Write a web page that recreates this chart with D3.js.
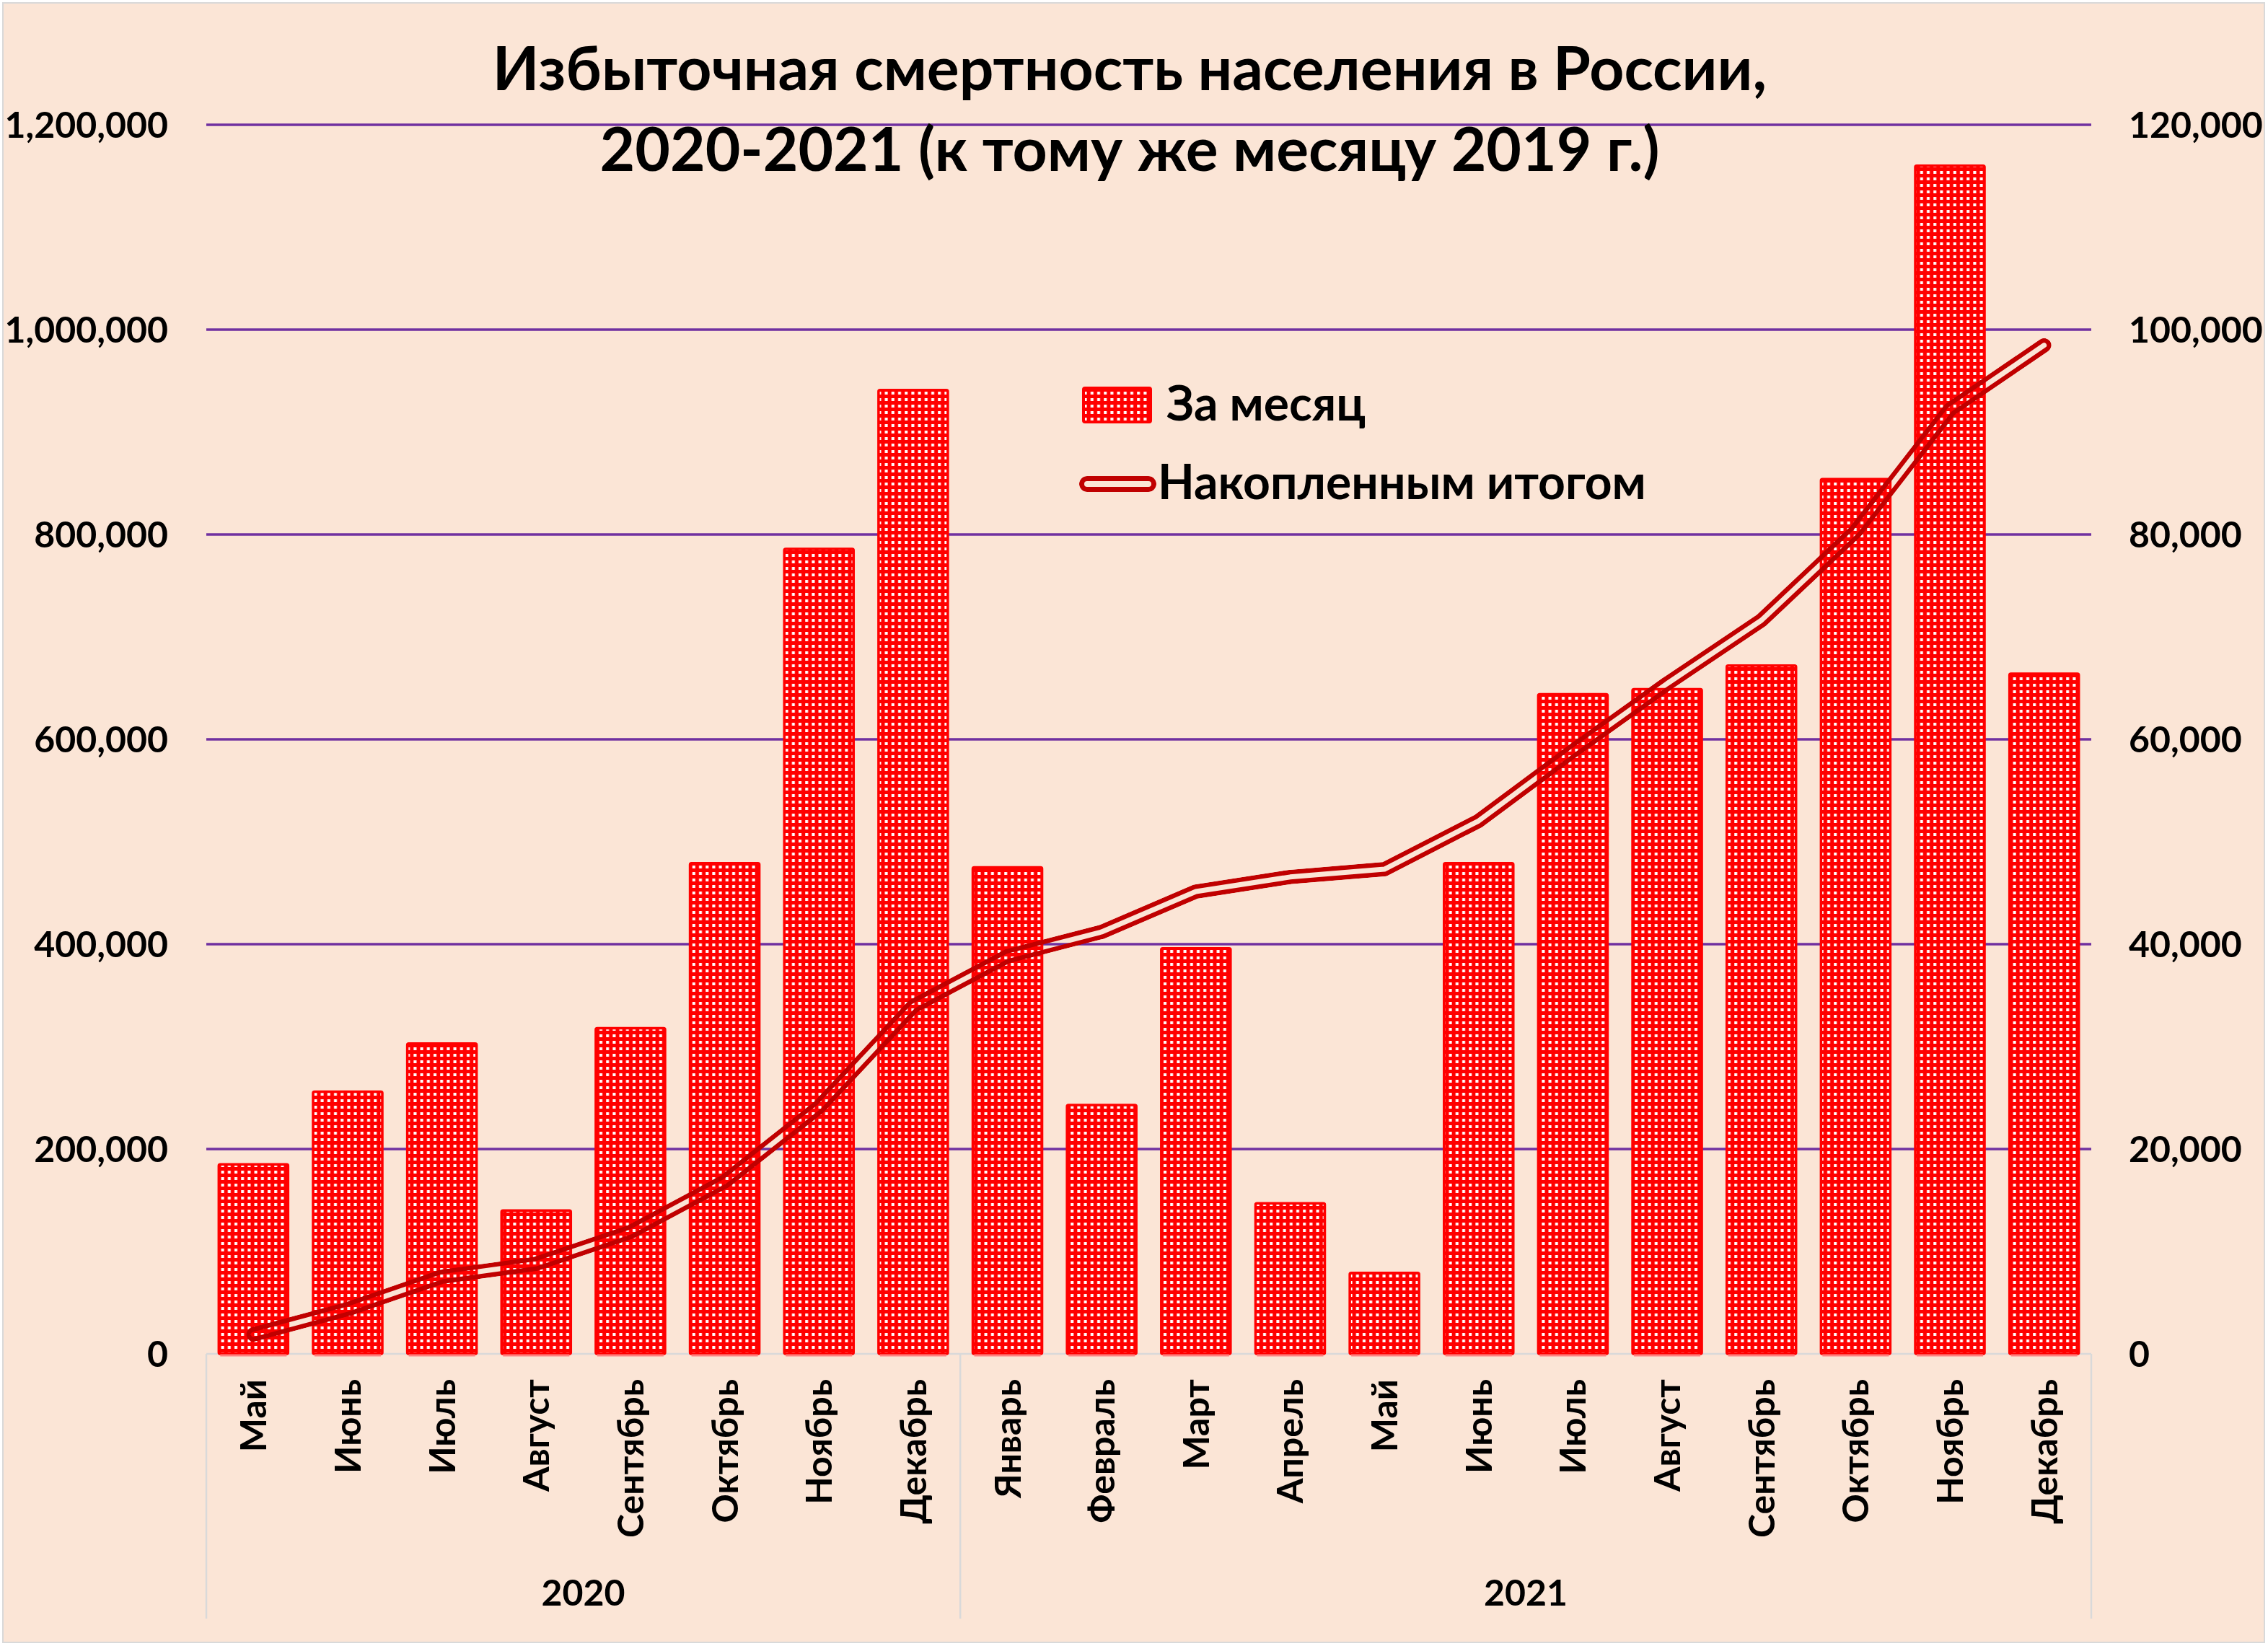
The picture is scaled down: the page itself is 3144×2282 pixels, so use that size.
<!DOCTYPE html>
<html><head><meta charset="utf-8">
<script src="https://cdn.jsdelivr.net/npm/d3@7"></script>
<style>html,body{margin:0;padding:0;background:#fff;}svg{display:block;}</style>
</head><body>
<script>
const months = ["Май","Июнь","Июль","Август","Сентябрь","Октябрь","Ноябрь","Декабрь","Январь","Февраль","Март","Апрель","Май","Июнь","Июль","Август","Сентябрь","Октябрь","Ноябрь","Декабрь"];
const years = ["2020","2021"];
const yearCounts = [8, 12];
const monthly = [18500,25600,30300,14000,31800,47900,78600,94100,47500,24300,39600,14700,7900,47900,64400,64900,67200,85400,116000,66400];
const cumulative = [19000,43700,75300,88000,119000,168300,241000,339400,388200,412000,451400,465600,473200,520400,588700,654400,716200,803000,922000,984700];
const leftTicks = [0,200000,400000,600000,800000,1000000,1200000];
const rightTicks = [0,20000,40000,60000,80000,100000,120000];
const titleLines = ["Избыточная смертность населения в России,","2020-2021 (к тому же месяцу 2019 г.)"];
const legendLabels = ["За месяц","Накопленным итогом"];

const W = 3144, H = 2282;
const FONT = "Lato, 'Open Sans', sans-serif";
const L = 286, R = 2899, T = 173, B = 1877;

const svg = d3.select("body").append("svg").attr("width", W).attr("height", H);
const defs = svg.append("defs");
const pat = defs.append("pattern").attr("id","dots").attr("patternUnits","userSpaceOnUse")
  .attr("width",9.2).attr("height",9);
pat.append("rect").attr("width",9.2).attr("height",9).attr("fill","#FF0000");
pat.append("rect").attr("x",3).attr("y",3).attr("width",4).attr("height",4).attr("fill","#FFFFFF");

svg.append("rect").attr("x",0).attr("y",0).attr("width",W).attr("height",H).attr("fill","#FFFFFF");
svg.append("rect").attr("x",4).attr("y",4).attr("width",W-9).attr("height",H-9)
  .attr("fill","#FBE5D6").attr("stroke","#D9D9D9").attr("stroke-width",2);

const idx = months.map((d,i)=>i);
const x = d3.scaleBand().domain(idx).range([L,R]).paddingInner(0.265).paddingOuter(0.1325);
const xPos = d3.scaleLinear().domain([0, months.length]).range([L, R]);
const yL = d3.scaleLinear().domain([0,1200000]).range([B,T]);
const yR = d3.scaleLinear().domain([0,120000]).range([B,T]);
const fmt = d3.format(",");

// gridlines
svg.append("g").selectAll("line").data(leftTicks.filter(d=>d>0)).join("line")
  .attr("x1",L).attr("x2",R).attr("y1",d=>yL(d)).attr("y2",d=>yL(d))
  .attr("stroke","#7030A0").attr("stroke-width",3.5);

// left axis labels
svg.append("g").selectAll("text").data(leftTicks).join("text")
  .attr("x",233).attr("y",d=>yL(d)).attr("dy","0.36em").attr("text-anchor","end")
  .attr("font-family",FONT).attr("font-weight","bold").attr("font-size",50).attr("fill","#000")
  .text(d=>fmt(d));
// right axis labels
svg.append("g").selectAll("text").data(rightTicks).join("text")
  .attr("x",2951).attr("y",d=>yR(d)).attr("dy","0.36em").attr("text-anchor","start")
  .attr("font-family",FONT).attr("font-weight","bold").attr("font-size",50).attr("fill","#000")
  .text(d=>fmt(d));

// category axis
const ax = svg.append("g").attr("stroke","#D9D9D9").attr("stroke-width",2.5);
ax.append("line").attr("x1",L).attr("x2",R).attr("y1",B).attr("y2",B);
let acc = 0; const seps = [0];
yearCounts.forEach(c=>{acc+=c; seps.push(acc);});
ax.selectAll("line.sep").data(seps).join("line").attr("class","sep")
  .attr("x1",d=>xPos(d)).attr("x2",d=>xPos(d)).attr("y1",B).attr("y2",2244);

// bars
svg.append("g").selectAll("rect").data(monthly).join("rect")
  .attr("x",(d,i)=>x(i)).attr("width",x.bandwidth())
  .attr("y",d=>yR(d)).attr("height",d=>B-yR(d))
  .attr("fill","url(#dots)").attr("stroke","#FF0000").attr("stroke-width",3.5).attr("rx",2);
svg.append("g").selectAll("rect").data(monthly).join("rect")
  .attr("x",(d,i)=>x(i)+2).attr("width",x.bandwidth()-4)
  .attr("y",B+0.5).attr("height",3).attr("fill","#FF7F7F");

// cumulative double line via mask
const line = d3.line().x((d,i)=>x(i)+x.bandwidth()/2).y(d=>yL(d));
const lp = line(cumulative);
const mask = defs.append("mask").attr("id","dbl").attr("maskUnits","userSpaceOnUse")
  .attr("x",0).attr("y",0).attr("width",W).attr("height",H);
mask.append("path").attr("d",lp).attr("fill","none").attr("stroke","#fff").attr("stroke-width",20)
  .attr("stroke-linejoin","round").attr("stroke-linecap","round");
mask.append("path").attr("d",lp).attr("fill","none").attr("stroke","#000").attr("stroke-width",7)
  .attr("stroke-linejoin","round").attr("stroke-linecap","round");
svg.append("path").attr("d",lp).attr("fill","none").attr("stroke","#C00000").attr("stroke-width",20)
  .attr("stroke-linejoin","round").attr("stroke-linecap","round").attr("mask","url(#dbl)");

// month labels
svg.append("g").selectAll("text").data(months).join("text")
  .attr("transform",(d,i)=>`translate(${x(i)+x.bandwidth()/2},1912) rotate(-90)`)
  .attr("dy","0.36em").attr("text-anchor","end")
  .attr("font-family",FONT).attr("font-weight","bold").attr("font-size",50).attr("fill","#000")
  .text(d=>d);
// year labels
acc = 0;
const yearCenters = yearCounts.map(c=>{const s=acc; acc+=c; return (s+acc)/2;});
svg.append("g").selectAll("text").data(years).join("text")
  .attr("x",(d,i)=>xPos(yearCenters[i])).attr("y",2226).attr("text-anchor","middle")
  .attr("font-family",FONT).attr("font-weight","bold").attr("font-size",50).attr("fill","#000")
  .text(d=>d);

// title
svg.append("g").selectAll("text").data(titleLines).join("text")
  .attr("x",1566).attr("y",(d,i)=>125+i*112).attr("text-anchor","middle")
  .attr("font-family",FONT).attr("font-weight","bold").attr("font-size",84).attr("fill","#000")
  .text(d=>d);

// legend
const lg = svg.append("g");
lg.append("rect").attr("x",1502).attr("y",538).attr("width",93).attr("height",47)
  .attr("fill","url(#dots)").attr("stroke","#FF0000").attr("stroke-width",4).attr("rx",2);
lg.append("text").attr("x",1617).attr("y",583).attr("font-family",FONT).attr("font-weight","bold")
  .attr("font-size",66).attr("fill","#000").text(legendLabels[0]);
const lgPath = "M1507,671 L1592,671";
const m2 = defs.append("mask").attr("id","dbl2").attr("maskUnits","userSpaceOnUse")
  .attr("x",0).attr("y",0).attr("width",W).attr("height",H);
m2.append("path").attr("d",lgPath).attr("stroke","#fff").attr("stroke-width",22).attr("stroke-linecap","round");
m2.append("path").attr("d",lgPath).attr("stroke","#000").attr("stroke-width",8).attr("stroke-linecap","round");
lg.append("path").attr("d",lgPath).attr("stroke","#C00000").attr("stroke-width",22)
  .attr("stroke-linecap","round").attr("mask","url(#dbl2)");
lg.append("text").attr("x",1605).attr("y",692).attr("font-family",FONT).attr("font-weight","bold")
  .attr("font-size",66).attr("fill","#000").text(legendLabels[1]);
</script>
</body></html>
